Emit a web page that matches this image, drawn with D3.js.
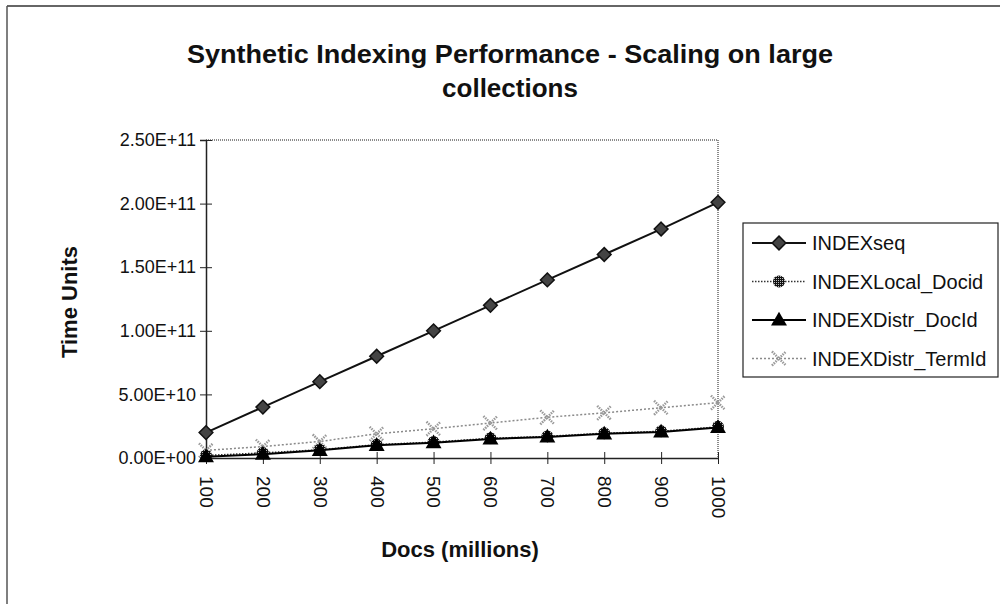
<!DOCTYPE html>
<html>
<head>
<meta charset="utf-8">
<script src="https://cdn.jsdelivr.net/npm/d3@7"></script>
<style>
  body { margin: 0; background: #fff; }
  svg { display: block; font-family: "Liberation Sans", Arial, sans-serif; }
</style>
</head>
<body>
<div id="chart"></div>
<script>
// Data

var docs = ["100", "200", "300", "400", "500", "600", "700", "800", "900", "1000"];

var indexSeq = [2.0e10, 4.0e10, 6.0e10, 8.0e10, 1.0e11, 1.2e11, 1.4e11, 1.6e11, 1.8e11, 2.01e11];
var indexLocalDocid = [2.0e9, 4.0e9, 6.5e9, 1.05e10, 1.25e10, 1.55e10, 1.7e10, 1.95e10, 2.1e10, 2.45e10];
var indexDistrDocid = [1.0e9, 3.0e9, 6.0e9, 1.0e10, 1.2e10, 1.5e10, 1.65e10, 1.9e10, 2.05e10, 2.4e10];
var indexDistrTermid = [6.0e9, 9.0e9, 1.3e10, 1.9e10, 2.3e10, 2.75e10, 3.2e10, 3.55e10, 3.95e10, 4.35e10];

var yTicks = [0, 5e10, 1e11, 1.5e11, 2e11, 2.5e11];

var seriesNames = ["INDEXseq", "INDEXLocal_Docid", "INDEXDistr_DocId", "INDEXDistr_TermId"];

// Render chart

var width = 1000;
var height = 604;

var svg = d3.select("#chart").append("svg")
    .attr("width", width)
    .attr("height", height);

var defs = svg.append("defs");
var hatch = defs.append("pattern")
    .attr("id", "hatch")
    .attr("width", 2).attr("height", 2)
    .attr("patternUnits", "userSpaceOnUse");
hatch.append("rect").attr("width", 2).attr("height", 2).attr("fill", "#111");
hatch.append("rect").attr("width", 1).attr("height", 1).attr("fill", "#bbb");

// outer frame (only top and left edges show)
svg.append("line").attr("x1", 7).attr("x2", 1000).attr("y1", 6).attr("y2", 6)
    .attr("stroke", "#333").attr("stroke-width", 1.5);
svg.append("line").attr("x1", 7).attr("x2", 7).attr("y1", 6).attr("y2", 604)
    .attr("stroke", "#555").attr("stroke-width", 1.5);

// title
var title = svg.append("text")
    .attr("text-anchor", "middle")
    .attr("font-weight", "bold")
    .attr("font-size", 26)
    .attr("fill", "#111");
title.append("tspan").attr("x", 510).attr("y", 63)
    .attr("textLength", 646).attr("lengthAdjust", "spacingAndGlyphs")
    .text("Synthetic Indexing Performance - Scaling on large");
title.append("tspan").attr("x", 510).attr("y", 97).text("collections");

var plot = { left: 206, right: 718, top: 140, bottom: 458 };

var x = d3.scalePoint()
    .domain(docs)
    .range([plot.left, plot.right])
    .padding(0);

var y = d3.scaleLinear()
    .domain([0, 2.5e11])
    .range([plot.bottom, plot.top]);

function sci(v) {
  var s = d3.format(".2e")(v).toUpperCase();
  return s.replace(/E([+-])(\d)$/, "E$10$2");
}

// plot area border (top and right)
svg.append("path")
    .attr("d", "M" + plot.left + "," + plot.top + "H" + plot.right + "V" + plot.bottom)
    .attr("fill", "none")
    .attr("stroke", "#666")
    .attr("stroke-width", 1.5)
    .attr("stroke-dasharray", "1,1");

// y axis
var yAxis = svg.append("g")
    .attr("transform", "translate(" + plot.left + ",0)")
    .call(d3.axisLeft(y).tickValues(yTicks).tickFormat(sci).tickSize(6).tickPadding(4));
yAxis.selectAll(".tick line").attr("x2", 6).attr("x1", -6).attr("stroke", "#222");
yAxis.select(".domain").attr("stroke", "#222").attr("stroke-width", 1.5);
yAxis.selectAll("text").attr("font-size", 18).attr("fill", "#111")
    .attr("font-family", "Liberation Sans, Arial, sans-serif");

// x axis
var xAxis = svg.append("g")
    .attr("transform", "translate(0," + plot.bottom + ")")
    .call(d3.axisBottom(x).tickSize(6).tickSizeOuter(0));
xAxis.selectAll(".tick line").attr("y1", -6).attr("y2", 6).attr("stroke", "#222");
xAxis.select(".domain").attr("stroke", "#222").attr("stroke-width", 1.5);
xAxis.selectAll("text")
    .attr("font-size", 19).attr("fill", "#111")
    .attr("font-family", "Liberation Sans, Arial, sans-serif")
    .attr("text-anchor", "start")
    .attr("dy", "0.35em")
    .attr("y", 0)
    .attr("transform", "translate(0,18) rotate(90)");

// axis titles
svg.append("text")
    .attr("transform", "translate(77,302) rotate(-90)")
    .attr("text-anchor", "middle")
    .attr("font-weight", "bold")
    .attr("font-size", 22)
    .attr("fill", "#111")
    .text("Time Units");

svg.append("text")
    .attr("x", 460).attr("y", 557)
    .attr("text-anchor", "middle")
    .attr("font-weight", "bold")
    .attr("font-size", 22)
    .attr("fill", "#111")
    .text("Docs (millions)");

// series
var series = [
  { name: seriesNames[3], values: indexDistrTermid, stroke: "#8a8a8a", dash: "2,2", width: 1.5, marker: "x" },
  { name: seriesNames[1], values: indexLocalDocid, stroke: "#333", dash: "1.5,1.5", width: 1.5, marker: "circle" },
  { name: seriesNames[2], values: indexDistrDocid, stroke: "#000", dash: null, width: 2, marker: "triangle" },
  { name: seriesNames[0], values: indexSeq, stroke: "#111", dash: null, width: 2, marker: "diamond" }
];

var line = d3.line()
    .x(function(d) { return x(d.doc); })
    .y(function(d) { return y(d.value); });

function drawMarker(g, type, cx, cy) {
  if (type === "diamond") {
    g.append("path")
      .attr("d", d3.symbol().type(d3.symbolDiamond2).size(120)())
      .attr("transform", "translate(" + cx + "," + cy + ")")
      .attr("fill", "#444").attr("stroke", "#111").attr("stroke-width", 1.5);
  } else if (type === "triangle") {
    g.append("path")
      .attr("d", d3.symbol().type(d3.symbolTriangle).size(110)())
      .attr("transform", "translate(" + cx + "," + (cy + 1) + ")")
      .attr("fill", "#000");
  } else if (type === "circle") {
    g.append("circle")
      .attr("cx", cx).attr("cy", cy).attr("r", 6)
      .attr("fill", "url(#hatch)");
  } else if (type === "x") {
    g.append("path")
      .attr("d", d3.symbol().type(d3.symbolX).size(130)())
      .attr("transform", "translate(" + cx + "," + cy + ")")
      .attr("fill", "none").attr("stroke", "#999").attr("stroke-width", 2.5)
      .attr("stroke-dasharray", "1.5,1");
  }
}

series.forEach(function(s) {
  var pts = docs.map(function(d, i) { return { doc: d, value: s.values[i] }; });
  var g = svg.append("g");
  g.append("path")
    .attr("d", line(pts))
    .attr("fill", "none")
    .attr("stroke", s.stroke)
    .attr("stroke-width", s.width)
    .attr("stroke-dasharray", s.dash);
  pts.forEach(function(p) {
    drawMarker(g, s.marker, x(p.doc), y(p.value));
  });
});

// legend
var legend = svg.append("g");
legend.append("rect")
    .attr("x", 743).attr("y", 223)
    .attr("width", 255).attr("height", 154)
    .attr("fill", "#fff")
    .attr("stroke", "#222")
    .attr("stroke-width", 1.2);

var legendOrder = [series[3], series[1], series[2], series[0]];
legendOrder.forEach(function(s, i) {
  var ly = 243 + i * 38.5;
  legend.append("line")
    .attr("x1", 752).attr("x2", 806)
    .attr("y1", ly).attr("y2", ly)
    .attr("stroke", s.stroke)
    .attr("stroke-width", s.width)
    .attr("stroke-dasharray", s.dash);
  drawMarker(legend, s.marker, 779, ly);
  legend.append("text")
    .attr("x", 812).attr("y", ly)
    .attr("dy", "0.35em")
    .attr("font-size", 20)
    .attr("fill", "#111")
    .text(s.name);
});
</script>
</body>
</html>
